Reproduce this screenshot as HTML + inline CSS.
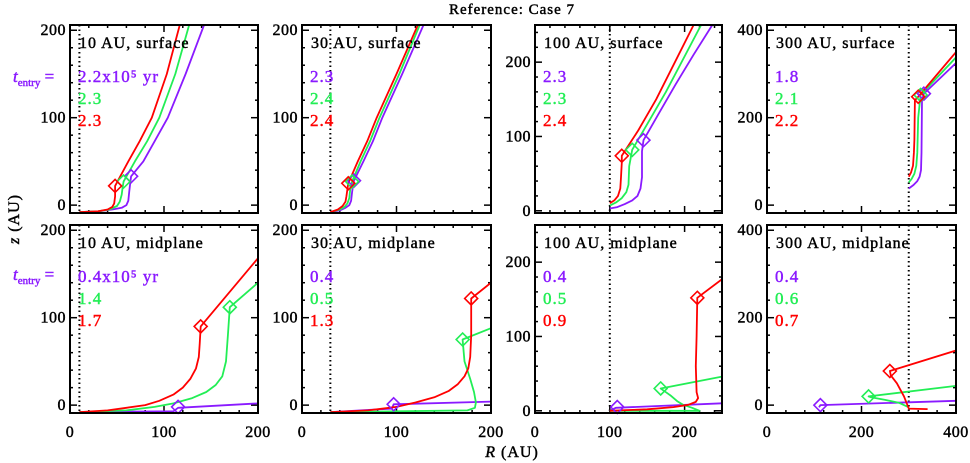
<!DOCTYPE html>
<html><head><meta charset="utf-8">
<style>
html,body{margin:0;padding:0;background:#fff;}
svg{display:block;}
text{font-family:"Liberation Serif",serif;fill:#000;stroke:#000;stroke-width:0.45;}
</style></head>
<body>
<svg id="fig" width="970" height="463" viewBox="0 0 970 463" xmlns="http://www.w3.org/2000/svg">
<text x="512" y="14" text-anchor="middle" font-size="15" letter-spacing="1">Reference: Case 7</text>
<text transform="translate(19,219) rotate(-90)" text-anchor="middle" font-size="16" letter-spacing="1"><tspan font-style="italic">z</tspan> (AU)</text>
<text x="512" y="457" text-anchor="middle" font-size="16" letter-spacing="1"><tspan font-style="italic">R</tspan> (AU)</text>
<text x="13" y="82" font-size="17" style="fill:#8a1aff;stroke:#8a1aff"><tspan font-style="italic">t</tspan><tspan font-size="11" dy="4">entry</tspan><tspan dy="-4"> =</tspan></text>
<text x="13" y="280" font-size="17" style="fill:#8a1aff;stroke:#8a1aff"><tspan font-style="italic">t</tspan><tspan font-size="11" dy="4">entry</tspan><tspan dy="-4"> =</tspan></text>
<g id="plots"></g>
</svg>
<script>
// ---- data ----
const panelTitles = ["10 AU, surface","30 AU, surface","100 AU, surface","300 AU, surface",
                     "10 AU, midplane","30 AU, midplane","100 AU, midplane","300 AU, midplane"];
const startRadii = [10,30,100,300,10,30,100,300];
const entryPurple = ["2.2x10⁵ yr","2.3","2.3","1.8","0.4x10⁵ yr","0.4","0.4","0.4"];
const entryGreen  = ["2.3","2.4","2.3","2.1","1.4","0.5","0.5","0.6"];
const entryRed    = ["2.3","2.4","2.4","2.2","1.7","1.3","0.9","0.7"];
const xTicks = [[0,100,200],[0,100,200],[0,100,200],[0,200,400]];
const yTicks = [[0,100,200],[0,100,200],[0,100,200],[0,200,400]];

// series: [R,z] points
const purpleR = [
 [[10,-8],[30,-7],[45,-5],[55,-3],[60,0],[62,5],[63,15],[64,25],[65,33],[78,50],[90,73],[104,100],[123,150],[143,207]],
 [[30,-8],[40,-6],[46,-3],[50,0],[52,5],[53,15],[54,22],[55,28],[65,50],[75,73],[85,100],[106,150],[129,207]],
 [[100,3],[110,5],[120,9],[130,14],[137,20],[141,30],[143,45],[143,80],[145,95],[165,130],[188,170],[212,210],[237,250]],
 [[300,38],[310,46],[318,55],[323,65],[326,80],[327,120],[328,240],[332,255],[400,325]],
 [[10,-8],[110,-7],[115,-3],[200,2]],
 [[30,-8],[95,-4],[97,1],[200,4]],
 [[100,0],[108,4],[250,10]],
 [[110,-5],[113,0],[400,10]]
];
const greenR = [
 [[10,-8],[30,-7],[42,-5],[50,-1],[53,4],[55,12],[56,20],[57,27],[69,50],[82,73],[95,100],[112,150],[127,207]],
 [[30,-8],[40,-5],[45,-2],[48,2],[50,8],[51,18],[53,27],[62,50],[72,73],[82,100],[103,150],[125,207]],
 [[100,7],[108,11],[116,17],[122,25],[125,35],[126,60],[130,82],[152,120],[175,160],[222,250]],
 [[300,52],[306,60],[312,72],[316,90],[318,120],[320,200],[325,252],[400,338]],
 [[10,-8],[60,-6],[90,-2],[110,2],[130,8],[145,15],[155,23],[162,33],[166,50],[168,80],[170,112],[200,140]],
 [[30,-8],[100,-7],[175,-6],[183,-3],[184,3],[182,15],[178,30],[172,50],[170,75],[200,88]],
 [[100,0],[220,0],[210,4],[198,8],[190,13],[182,20],[175,25],[168,30],[250,46]],
 [[300,-5],[280,5],[250,12],[220,18],[215,20],[400,44]]
];
const redR = [
 [[10,-8],[30,-7],[40,-5],[45,-2],[47,2],[48,10],[48,22],[62,50],[74,73],[87,100],[103,150],[117,207]],
 [[30,-8],[38,-5],[43,-1],[46,4],[47,10],[48,18],[49,25],[59,50],[69,73],[79,100],[100,150],[123,207]],
 [[100,10],[106,14],[111,20],[114,30],[115,45],[116,65],[116,74],[138,108],[162,150],[187,200],[212,250]],
 [[300,65],[305,75],[309,90],[311,120],[312,150],[313,240],[320,248],[400,350]],
 [[10,-8],[40,-6],[60,-3],[80,0],[95,5],[110,12],[120,20],[128,30],[134,42],[137,55],[138,70],[139,90],[200,168]],
 [[30,-8],[70,-6],[100,-2],[120,3],[140,9],[155,16],[165,24],[172,33],[176,42],[178,55],[179,80],[179,122],[200,140]],
 [[100,0],[150,2],[185,5],[205,8],[215,12],[218,17],[216,25],[215,60],[216,100],[217,152],[250,177]],
 [[340,-9],[300,-8],[290,20],[275,50],[262,68],[260,78],[400,125]]
];
const diamondPurple = [[65,33],[55,28],[145,95],[332,255],[115,-2],[97,1],[110,5],[113,0]];
const diamondGreen  = [[57,27],[53,27],[130,82],[325,252],[170,112],[170,75],[168,30],[215,20]];
const diamondRed    = [[48,22],[49,25],[116,74],[320,248],[139,90],[179,122],[217,152],[260,78]];

const colFrames = [[70,258],[302,491],[535,722],[767,956]];
const rowFrames = [[25,213],[225,413]];
const xRanges = [[0,200],[0,200],[0,250],[0,400]];
const yRanges = [[-9,206],[-9,206],[-3,250],[-18,412]];
const PURPLE="#8a1aff", GREEN="#22ee55", RED="#ff0000";

const NS="http://www.w3.org/2000/svg";
const root=document.getElementById('plots');
function mk(tag,attrs,parent){const e=document.createElementNS(NS,tag);for(const k in attrs)e.setAttribute(k,attrs[k]);(parent||root).appendChild(e);return e;}

for(let p=0;p<8;p++){
  const c=p%4, r=Math.floor(p/4);
  const [x0,x1]=colFrames[c], [y0,y1]=rowFrames[r];
  const [xa,xb]=xRanges[c], [ya,yb]=yRanges[c];
  const sx=v=>x0+(v-xa)/(xb-xa)*(x1-x0);
  const sy=v=>y1-(v-ya)/(yb-ya)*(y1-y0);
  const g=mk('g',{});
  
  
  const clipId='clip'+p;
  const cp=mk('clipPath',{id:clipId},g);
  mk('rect',{x:x0,y:y0,width:x1-x0,height:y1-y0},cp);

  const step = xb>=400?40:20;
  for(let v=xa+step; v<xb; v+=step){
    const X=sx(v), major=xTicks[c].includes(v);
    const len=major?7:3;
    const t1=mk('line',{x1:X,y1:y1,x2:X,y2:y1-len,stroke:'#000','stroke-width':1.5},g);
    
    
    const t2=mk('line',{x1:X,y1:y0,x2:X,y2:y0+len,stroke:'#000','stroke-width':1.5},g);
    
    
  }
  const ystep = c===3?40:20;
  for(let v=Math.ceil(ya/ystep)*ystep; v<yb; v+=ystep){
    const Y=sy(v), major=yTicks[c].includes(v);
    const len=major?7:3;
    const t1=mk('line',{x1:x0,y1:Y,x2:x0+len,y2:Y,stroke:'#000','stroke-width':1.5},g);
    
    
    const t2=mk('line',{x1:x1,y1:Y,x2:x1-len,y2:Y,stroke:'#000','stroke-width':1.5},g);
    
    
  }
  yTicks[c].forEach(v=>{
    const t=mk('text',{x:x0-4,y:sy(v)+5,'text-anchor':'end','font-size':16,'letter-spacing':0.5},g);
    
    
    t.textContent=v;
  });
  if(r===1){
    xTicks[c].forEach(v=>{
      const t=mk('text',{x:sx(v),y:437,'text-anchor':'middle','font-size':16,'letter-spacing':0.5},g);
      
      
      t.textContent=v;
    });
  }
  const dl=mk('line',{x1:sx(startRadii[p]),y1:y0,x2:sx(startRadii[p]),y2:y1,stroke:'#000','stroke-width':2,'stroke-dasharray':'1.5 3'},g);
  
  

  const cg=mk('g',{'clip-path':'url(#'+clipId+')'},g);
  const series=[[purpleR[p],PURPLE,'purple'],[greenR[p],GREEN,'green'],[redR[p],RED,'red']];
  series.forEach(([pts,col,nm])=>{
    const d=pts.map((q,i)=>(i?'L':'M')+sx(q[0]).toFixed(1)+','+sy(q[1]).toFixed(1)).join(' ');
    const pl=mk('path',{d:d,fill:'none',stroke:col,'stroke-width':1.8,'stroke-linejoin':'round'},cg);
    
    
  });
  [[diamondPurple[p],PURPLE,'purple'],[diamondGreen[p],GREEN,'green'],[diamondRed[p],RED,'red']].forEach(([q,col,nm])=>{
    const X=sx(q[0]),Y=sy(q[1]),s=6.5;
    const dm=mk('path',{d:`M${X},${Y-s} L${X+s},${Y} L${X},${Y+s} L${X-s},${Y} Z`,fill:'none',stroke:col,'stroke-width':1.6},g);
    
    
  });
  const fr=mk('rect',{x:x0,y:y0,width:x1-x0,height:y1-y0,fill:'none',stroke:'#000','stroke-width':2},g);
  
  
  const tt=mk('text',{x:x0+9,y:y0+23,'font-size':16,'letter-spacing':1},g);
  
  
  tt.textContent=panelTitles[p];
  [[entryPurple[p],PURPLE],[entryGreen[p],GREEN],[entryRed[p],RED]].forEach(([s,col],i)=>{
    const t=mk('text',{x:x0+8,y:y0+57+i*22,'font-size':17,'letter-spacing':1,style:'fill:'+col+';stroke:'+col},g);
    
    
    t.textContent=s;
  });
}
</script>
</body></html>
